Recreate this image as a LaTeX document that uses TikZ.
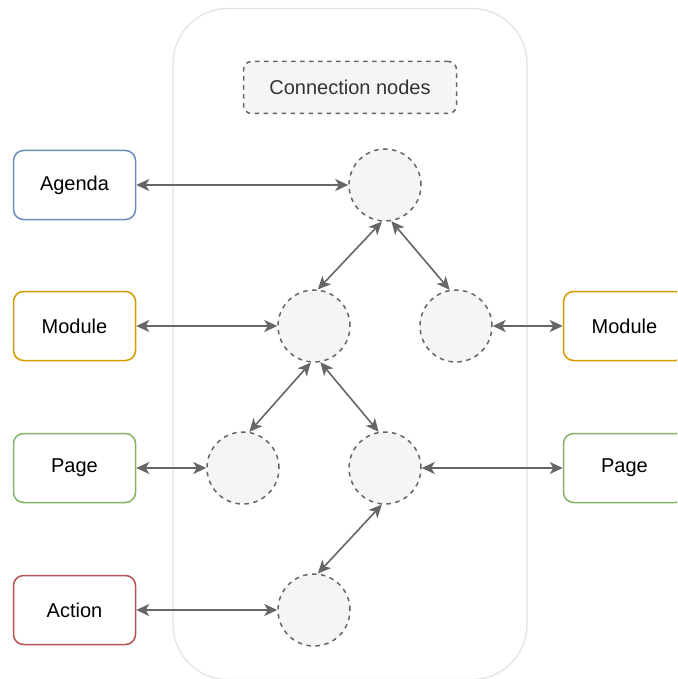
\documentclass[tikz,border=0pt]{standalone}
\usepackage{fontspec}
\setmainfont{Liberation Sans}
\usetikzlibrary{arrows.meta}
\definecolor{cblue}{HTML}{6C8EBF}
\definecolor{corange}{HTML}{D79B00}
\definecolor{cgreen}{HTML}{82B366}
\definecolor{cred}{HTML}{B85450}
\definecolor{cgrey}{HTML}{666666}
\definecolor{cfill}{HTML}{F5F5F5}
\definecolor{cpane}{HTML}{E2E2E2}
\tikzset{px/.style={x=1pt,y=-1pt,font=\fontsize{20}{24}\selectfont}}
\tikzset{entity/.style={draw,fill=white,line width=1.5pt,rounded corners=10pt,
           minimum width=122pt,minimum height=69pt,inner sep=0pt},
         hub/.style={circle,draw=cgrey,fill=cfill,line width=1.5pt,
           dash pattern=on 4.5pt off 4.5pt,minimum size=72pt,inner sep=0pt},
         link/.style={cgrey,line width=1.6pt,
           {Stealth[length=13pt,width=12pt,inset=3.5pt]}-{Stealth[length=13pt,width=12pt,inset=3.5pt]}}}

\begin{document}
\begin{tikzpicture}[px]
    \clip (0,0) rectangle (677,679);
    \node[draw=cpane,line width=1.2pt,rounded corners=55pt,minimum width=354pt,
          minimum height=671pt,inner sep=0pt] (pane) at (350,344) {};
    \node[draw=cgrey,fill=cfill,text=black!80,line width=1.5pt,rounded corners=8pt,
          dash pattern=on 4.5pt off 4.5pt,minimum width=213pt,minimum height=52pt,
          inner sep=0pt] (legend) at (350,87.5) {Connection nodes};
    % left column
    \node[entity,draw=cblue]   (agenda)  at (74.5,185) {Agenda};
    \node[entity,draw=corange] (modl)    at (74.5,326) {Module};
    \node[entity,draw=cgreen]  (pagel)   at (74.5,468) {Page};
    \node[entity,draw=cred]    (action)  at (74.5,610) {Action};
    % right column (cut at the edge)
    \node[entity,draw=corange] (modr)    at (624.5,326) {Module};
    \node[entity,draw=cgreen]  (pager)   at (624.5,468) {Page};
    % connection nodes
    \node[hub] (c1) at (385,185) {};
    \node[hub] (c2) at (314,326) {};
    \node[hub] (c3) at (456,326) {};
    \node[hub] (c4) at (243,468) {};
    \node[hub] (c5) at (385,468) {};
    \node[hub] (c6) at (314,610) {};
    \draw[link] (agenda) -- (c1);
    \draw[link] (modl) -- (c2);
    \draw[link] (c3) -- (modr);
    \draw[link] (pagel) -- (c4);
    \draw[link] (c5) -- (pager);
    \draw[link] (action) -- (c6);
    \draw[link] (c1.265) -- (c2.84);
    \draw[link] (c1.280) -- (c3.100);
    \draw[link] (c2.265) -- (c4.80);
    \draw[link] (c2.280) -- (c5.100);
    \draw[link] (c5.265) -- (c6.84);
  \end{tikzpicture}
\end{document}
